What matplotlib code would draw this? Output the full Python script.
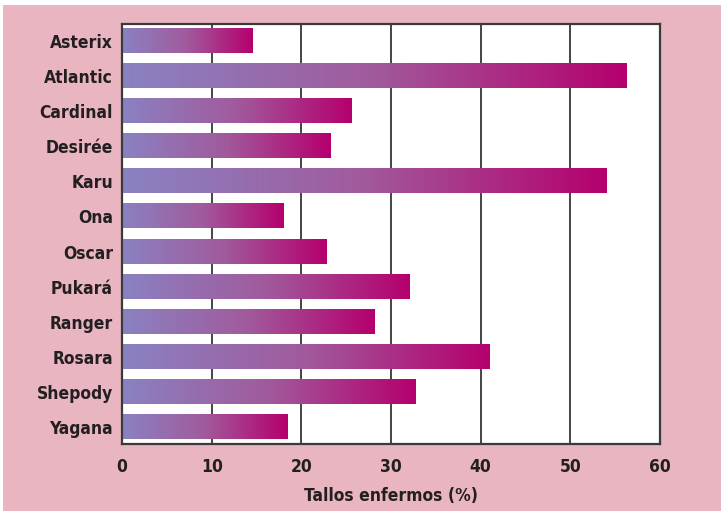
import numpy as np
import matplotlib
matplotlib.use("Agg")
import matplotlib.pyplot as plt
from matplotlib.colors import LinearSegmentedColormap
from matplotlib.patches import Rectangle
from matplotlib import font_manager as fm

varieties = ["Asterix", "Atlantic", "Cardinal", "Desirée", "Karu", "Ona", "Oscar",
             "Pukará", "Ranger", "Rosara", "Shepody", "Yagana"]
values = [14.6, 56.3, 25.6, 23.3, 54.0, 18.0, 22.8, 32.1, 28.2, 41.0, 32.7, 18.5]
xticks = [0, 10, 20, 30, 40, 50, 60]
xlabel = "Tallos enfermos (%)"

fp = fm.FontProperties(family="DejaVu Sans", stretch="condensed", weight="bold", size=12.5)

pink = "#E9B5C1"
fig = plt.figure(figsize=(7.21, 5.11), dpi=100, facecolor="white")
fig.patches.append(Rectangle((3/721, 0), 1, 1 - 5/511, transform=fig.transFigure,
                             facecolor=pink, edgecolor="none", zorder=-10))
ax = fig.add_axes([122/721, 1 - 444/511, (660 - 122)/721, (444 - 24)/511])
ax.set_facecolor("white")

cmap = LinearSegmentedColormap.from_list("g", ["#8A82C2", "#A15A9C", "#B5006E"])
grad = np.linspace(0, 1, 256).reshape(1, -1)

y = np.arange(len(varieties))
bars = ax.barh(y, values, height=0.684, color="none", edgecolor="none", zorder=3)
for b in bars:
    x0, y0 = b.get_x(), b.get_y()
    w, h = b.get_width(), b.get_height()
    ax.imshow(grad, cmap=cmap, aspect="auto", extent=(x0, x0 + w, y0 + h, y0),
              zorder=3, interpolation="bilinear")

ax.set_xlim(0, 60)
ax.set_ylim(11.484, -0.484)
ax.set_xticks(xticks)
ax.set_xticklabels([str(t) for t in xticks])
ax.set_yticks(y)
ax.set_yticklabels(varieties)
for t in xticks[1:-1]:
    ax.axvline(t, color="#444444", lw=1.4, zorder=1)
ax.tick_params(axis="both", length=0, colors="#231F20")
ax.tick_params(axis="x", pad=10)
ax.tick_params(axis="y", pad=6.5)
for lbl in ax.get_xticklabels() + ax.get_yticklabels():
    lbl.set_fontproperties(fp)
ax.set_xlabel(xlabel, fontproperties=fp, color="#231F20", labelpad=8)
for s in ax.spines.values():
    s.set_color("#3a3a3a")
    s.set_linewidth(1.6)
    s.set_zorder(5)

fig.savefig("out.png", dpi=100, facecolor=fig.get_facecolor())
